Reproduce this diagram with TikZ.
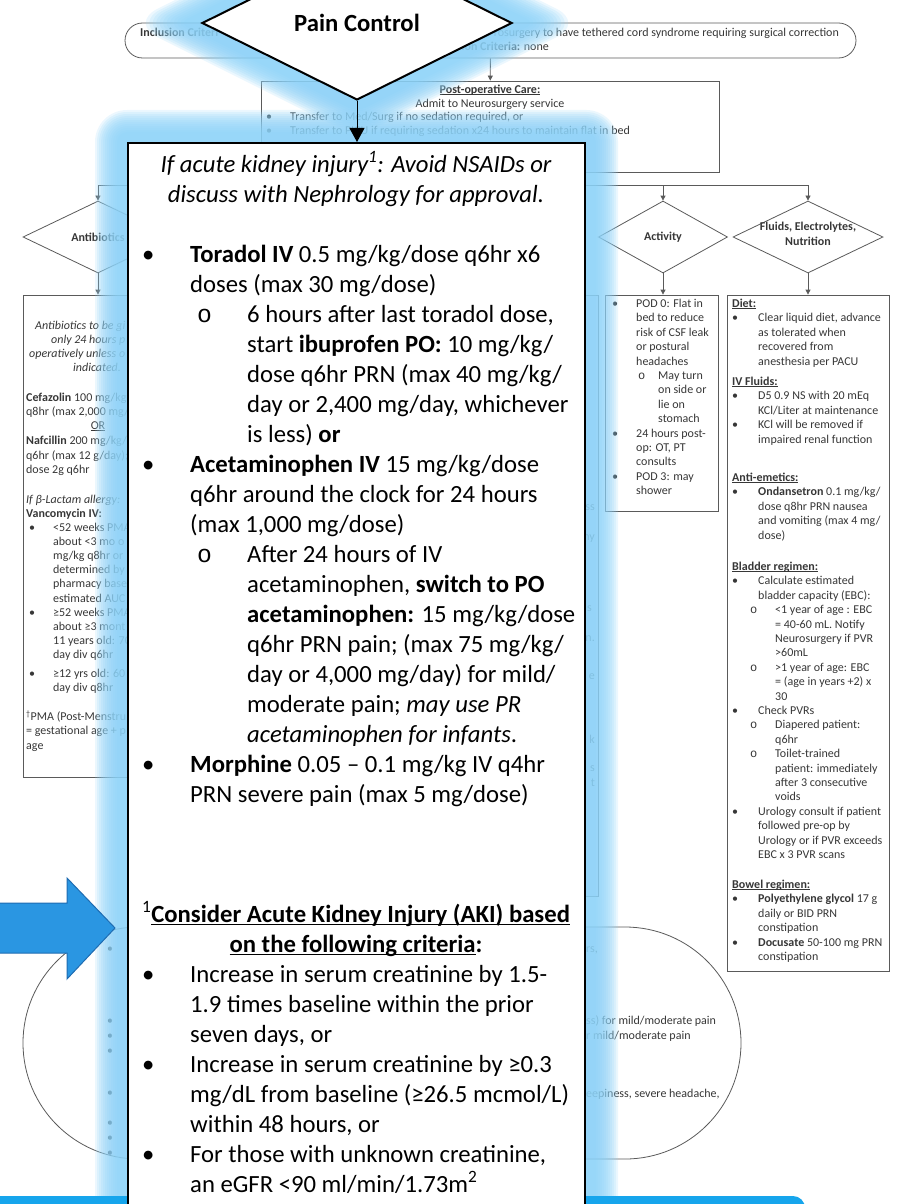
\documentclass[tikz,border=0pt]{standalone}
\usepackage{fontspec}
\setmainfont{Carlito}
\newfontfamily\subfont{Liberation Mono}
\usetikzlibrary{shapes.geometric,arrows.meta}

\definecolor{glowc}{RGB}{140,210,248}
\definecolor{bgline}{RGB}{90,90,90}
\definecolor{bgtext}{RGB}{55,55,55}
\definecolor{calloutblue}{RGB}{42,150,226}
\definecolor{calloutedge}{RGB}{30,108,178}
\definecolor{barblue}{RGB}{22,165,236}

% bullet layout: bullet width, sub-bullet offset, sub-bullet width
\newlength\bw \newlength\so \newlength\sw
\newcommand\itm[1]{\makebox[\bw][l]{\textbullet}#1}
\newcommand\cnt[1]{\hspace*{\bw}#1}
\newcommand\sitm[1]{\hspace*{\so}\makebox[\sw][l]{\subfont o}#1}
\newcommand\scnt[1]{\hspace*{\so}\hspace*{\sw}#1}
\newcommand\undl[1]{\setbox0\hbox{#1}\rlap{\rule[-0.13em]{\wd0}{0.055em}}\box0}
\newcommand\bigfs{\fontsize{24.7}{30}\selectfont}
\newcommand\smallfs{\fontsize{12}{14.4}\selectfont}

\pgfdeclarelayer{back}
\pgfdeclarelayer{halo}
\pgfsetlayers{back,halo,main}

\begin{document}
\begin{tikzpicture}[x=1pt, y=-1pt,
  bgshape/.style={draw=bgline, line width=0.8pt, fill=white, inner sep=0},
  bgdia/.style={bgshape, diamond},
  bgtxt/.style={anchor=base west, inner sep=0, text=bgtext, font=\smallfs},
  bglab/.style={inner sep=0, text=bgtext, font=\smallfs\bfseries, align=center},
  bgconn/.style={draw=bgline, line width=0.8pt},
  bgarrow/.style={bgconn, -{Triangle[length=5pt,width=5pt]}},
  mainbox/.style={draw, line width=2pt, fill=white},
  maintxt/.style={anchor=base west, inner sep=0, font=\bigfs},
  glowlayer/.style={fill=glowc, opacity=0.17},
  painarrow/.style={line width=1pt, -{Triangle[length=14pt,width=15pt]}}
]
\useasboundingbox (0,0) rectangle (897,1204);

% highlighted step
\node[mainbox, minimum width=457, minimum height=1090, anchor=north west] (main) at (127,142) {};
\node[diamond, draw, line width=2pt, fill=white, aspect=2, minimum width=310, minimum height=154,
  font=\bigfs\bfseries] (pc) at (357,23) {Pain Control};
\draw[painarrow] (pc.south) -- (pc.south |- main.north);

\node[anchor=base, inner sep=0, font=\bigfs\itshape] (akiNote) at (356,172)
  {\begin{tabular}[t]{@{}c@{}}If acute kidney injury\textsuperscript{1}: Avoid NSAIDs or\\
   discuss with Nephrology for approval.\end{tabular}};
\node[maintxt] (meds) at (142,262) {\setlength\bw{48pt}\setlength\so{55pt}\setlength\sw{50pt}%
  \begin{tabular}[t]{@{}l@{}}
  \itm{\textbf{Toradol IV} 0.5 mg/kg/dose q6hr x6}\\
  \cnt{doses (max 30 mg/dose)}\\
  \sitm{6 hours after last toradol dose,}\\
  \scnt{start \textbf{ibuprofen PO:} 10 mg/kg/}\\
  \scnt{dose q6hr PRN (max 40 mg/kg/}\\
  \scnt{day or 2,400 mg/day, whichever}\\
  \scnt{is less) \textbf{or}}\\
  \itm{\textbf{Acetaminophen IV} 15 mg/kg/dose}\\
  \cnt{q6hr around the clock for 24 hours}\\
  \cnt{(max 1,000 mg/dose)}\\
  \sitm{After 24 hours of IV}\\
  \scnt{acetaminophen, \textbf{switch to PO}}\\
  \scnt{\textbf{acetaminophen:} 15 mg/kg/dose}\\
  \scnt{q6hr PRN pain; (max 75 mg/kg/}\\
  \scnt{day or 4,000 mg/day) for mild/}\\
  \scnt{moderate pain; \textit{may use PR}}\\
  \scnt{\textit{acetaminophen for infants}.}\\
  \itm{\textbf{Morphine} 0.05 -- 0.1 mg/kg IV q4hr}\\
  \cnt{PRN severe pain (max 5 mg/dose)}
  \end{tabular}};
\node[anchor=base, inner sep=0, font=\bigfs] (akiHead) at (356,922)
  {\begin{tabular}[t]{@{}c@{}}\textsuperscript{1}\textbf{\undl{Consider Acute Kidney Injury (AKI) based}}\\
   \textbf{\undl{on the following criteria}:}\end{tabular}};
\node[maintxt] (akiList) at (142,982) {\setlength\bw{48pt}%
  \begin{tabular}[t]{@{}l@{}}
  \itm{Increase in serum creatinine by 1.5-}\\
  \cnt{1.9 times baseline within the prior}\\
  \cnt{seven days, or}\\
  \itm{Increase in serum creatinine by ≥0.3}\\
  \cnt{mg/dL from baseline (≥26.5 mcmol/L)}\\
  \cnt{within 48 hours, or}\\
  \itm{For those with unknown creatinine,}\\
  \cnt{an eGFR <90 ml/min/1.73m\textsuperscript{2}}
  \end{tabular}};

% pointer arrow
\fill[calloutblue, draw=calloutedge, line width=1pt] (-5,903) -- (67,903) -- (67,878) -- (115,928)
  -- (67,979) -- (67,953) -- (-5,953) -- cycle;

% glow round the highlighted step
\begin{pgfonlayer}{halo}
\foreach \d in {10,12,...,32} {
  \fill[glowlayer, rounded corners=\d pt] ([xshift=-\d, yshift=\d]main.north west)
    rectangle ([xshift=\d, yshift=-\d]main.south east);
  \fill[glowlayer, rounded corners=\d pt] ([xshift=-2.25*\d]pc.west) -- ([yshift=1.12*\d]pc.north)
    -- ([xshift=2.25*\d]pc.east) -- ([yshift=-1.12*\d]pc.south) -- cycle;
}
\fill[barblue, rounded corners=12pt] (-20,1196) rectangle (805,1240);
\end{pgfonlayer}

% the pathway behind
\begin{pgfonlayer}{back}
\node[bgshape, rounded corners=17.5pt, minimum width=731, minimum height=35] (incl) at (490.5,40.5) {};
\node[bgtxt] (inclL) at (140,36.5) {\textbf{Inclusion Criteri}};
\node[bgtxt, anchor=base east] (inclR) at (839,36.5) {rosurgery to have tethered cord syndrome requiring surgical correction};
\node[bgtxt, anchor=base east] (exclR) at (549,50.5) {\textbf{ion Criteria:} none};

\node[bgshape, minimum width=458, minimum height=91] (postop) at (490,126.5) {};
\node[bgtxt, anchor=base] (postopT) at (490,93.5) {\textbf{\undl{Post-operative Care:}}};
\node[bgtxt, anchor=base] (postopA) at (490,107.5) {Admit to Neurosurgery service};
\node[bgtxt] (postopB) at (266,120.5) {\setlength\bw{24pt}%
  \begin{tabular}[t]{@{}l@{}}
  \itm{Transfer to Med/Surg if no sedation required, or}\\
  \itm{Transfer to PICU if requiring sedation x24 hours to maintain flat in bed}
  \end{tabular}};
\draw[bgarrow] (incl) -- (postop);

\coordinate (split) at (490,185);
\node[bgdia, minimum width=150, minimum height=72] (dAnti) at (98,237) {};
\node[bglab] (lAnti) at (98,237) {Antibiotics};
\node[bgdia, minimum width=129, minimum height=72] (dAct) at (663,237) {};
\node[bglab] (lAct) at (663,237) {Activity};
\node[bgdia, minimum width=150, minimum height=72] (dFlu) at (808,237) {};
\node[bglab] (lFlu) at (808,234) {Fluids, Electrolytes,\\Nutrition};
\draw[bgconn] (postop) -- (split);
\draw[bgarrow] (split) -| (dAnti);
\draw[bgarrow] (split) -| (dAct);
\draw[bgarrow] (split) -| (dFlu);

\node[bgshape, minimum width=150, minimum height=482] (abBox) at (98,536) {};
\node[bgshape, minimum width=412, minimum height=601] (pBox) at (392,595.5) {};
\node[bgshape, minimum width=113, minimum height=216] (actBox) at (661.5,403) {};
\node[bgshape, minimum width=162, minimum height=676] (fluBox) at (808,633) {};
\draw[bgarrow] (dAnti) -- (abBox);
\draw[bgarrow] (dAct) -- (dAct |- actBox.north);
\draw[bgarrow] (dFlu) -- (fluBox);

% antibiotics column
\node[bgtxt] (ab1) at (35,329.5) {\textit{Antibiotics to be gi}};
\node[bgtxt] (ab2) at (51,343.5) {\textit{only 24 hours p}};
\node[bgtxt] (ab3) at (29,357.5) {\textit{operatively unless o}};
\node[bgtxt] (ab4) at (73,371.5) {\textit{indicated.}};
\node[bgtxt] (ab5) at (26,401.5) {\begin{tabular}[t]{@{}l@{}}
  \textbf{Cefazolin} 100 mg/kg\\ q8hr (max 2,000 mg/\\ \\ \textbf{Nafcillin} 200 mg/kg/\\
  q6hr (max 12 g/day);\\ dose 2g q6hr\end{tabular}};
\node[bgtxt, anchor=base] (abOr) at (98,429.5) {\undl{OR}};
\node[bgtxt] (ab6) at (26,503.5) {\begin{tabular}[t]{@{}l@{}}
  \textit{If β-Lactam allergy:}\\ \textbf{Vancomycin IV:}\end{tabular}};
\node[bgtxt] (ab7) at (29,531.5) {\setlength\bw{24pt}\fontsize{12}{14.1}\selectfont
  \begin{tabular}[t]{@{}l@{}}
  \itm{<52 weeks PMA}\\ \cnt{about <3 mo o}\\ \cnt{mg/kg q8hr or}\\ \cnt{determined by}\\
  \cnt{pharmacy base}\\ \cnt{estimated AUC}\\ \itm{≥52 weeks PMA}\\ \cnt{about ≥3 mont}\\
  \cnt{11 years old: 70}\\ \cnt{day div q6hr}
  \end{tabular}};
\node[bgtxt] (ab8) at (29,677.5) {\setlength\bw{24pt}%
  \begin{tabular}[t]{@{}l@{}}\itm{≥12 yrs old: 60}\\ \cnt{day div q8hr}\end{tabular}};
\node[bgtxt] (ab9) at (26,720.5) {\begin{tabular}[t]{@{}l@{}}
  \textsuperscript{†}PMA (Post-Menstru\\ = gestational age + p\\ age\end{tabular}};

% pain column, right edge only
\node[bgtxt, anchor=base east] (pm1) at (595,510.5) {ss};
\node[bgtxt, anchor=base east] (pm2) at (595,540.5) {ny};
\node[bgtxt, anchor=base east] (pm3) at (592,611.5) {s};
\node[bgtxt, anchor=base east] (pm4) at (595,641.5) {n.};
\node[bgtxt, anchor=base east] (pm5) at (595,679.5) {e};
\node[bgtxt, anchor=base east] (pm6) at (595,743.5) {k};
\node[bgtxt, anchor=base east] (pm7) at (595,771.5) {s};
\node[bgtxt, anchor=base east] (pm8) at (595,786.5) {t};

% activity column
\node[bgtxt] (actTxt) at (612,307.5) {\setlength\bw{24pt}\setlength\so{26pt}\setlength\sw{20pt}%
  \begin{tabular}[t]{@{}l@{}}
  \itm{POD 0: Flat in}\\ \cnt{bed to reduce}\\ \cnt{risk of CSF leak}\\ \cnt{or postural}\\
  \cnt{headaches}\\ \sitm{May turn}\\ \scnt{on side or}\\ \scnt{lie on}\\ \scnt{stomach}\\
  \itm{24 hours post-}\\ \cnt{op: OT, PT}\\ \cnt{consults}\\ \itm{POD 3: may}\\ \cnt{shower}
  \end{tabular}};

% fluids column
\node[bgtxt] (flu1) at (732,307.5) {\setlength\bw{26pt}%
  \begin{tabular}[t]{@{}l@{}}
  \textbf{\undl{Diet:}}\\ \itm{Clear liquid diet, advance}\\ \cnt{as tolerated when}\\
  \cnt{recovered from}\\ \cnt{anesthesia per PACU}
  \end{tabular}};
\node[bgtxt] (flu2) at (732,385.5) {\setlength\bw{26pt}%
  \begin{tabular}[t]{@{}l@{}}
  \textbf{\undl{IV Fluids:}}\\ \itm{D5 0.9 NS with 20 mEq}\\ \cnt{KCl/Liter at maintenance}\\
  \itm{KCl will be removed if}\\ \cnt{impaired renal function}
  \end{tabular}};
\node[bgtxt] (flu3) at (732,481.5) {\setlength\bw{26pt}%
  \begin{tabular}[t]{@{}l@{}}
  \textbf{\undl{Anti-emetics:}}\\ \itm{\textbf{Ondansetron} 0.1 mg/kg/}\\ \cnt{dose q8hr PRN nausea}\\
  \cnt{and vomiting (max 4 mg/}\\ \cnt{dose)}
  \end{tabular}};
\node[bgtxt] (flu4) at (732,570.5) {\setlength\bw{26pt}\setlength\so{18pt}\setlength\sw{25pt}%
  \begin{tabular}[t]{@{}l@{}}
  \textbf{\undl{Bladder regimen:}}\\ \itm{Calculate estimated}\\ \cnt{bladder capacity (EBC):}\\
  \sitm{<1 year of age : EBC}\\ \scnt{= 40-60 mL. Notify}\\ \scnt{Neurosurgery if PVR}\\ \scnt{>60mL}\\
  \sitm{>1 year of age: EBC}\\ \scnt{= (age in years +2) x}\\ \scnt{30}\\
  \itm{Check PVRs}\\ \sitm{Diapered patient:}\\ \scnt{q6hr}\\ \sitm{Toilet-trained}\\
  \scnt{patient: immediately}\\ \scnt{after 3 consecutive}\\ \scnt{voids}\\
  \itm{Urology consult if patient}\\ \cnt{followed pre-op by}\\ \cnt{Urology or if PVR exceeds}\\
  \cnt{EBC x 3 PVR scans}
  \end{tabular}};
\node[bgtxt] (flu5) at (732,888.5) {\setlength\bw{26pt}%
  \begin{tabular}[t]{@{}l@{}}
  \textbf{\undl{Bowel regimen:}}\\ \itm{\textbf{Polyethylene glycol} 17 g}\\ \cnt{daily or BID PRN}\\
  \cnt{constipation}\\ \itm{\textbf{Docusate} 50-100 mg PRN}\\ \cnt{constipation}
  \end{tabular}};

% discharge oval
\node[bgshape, rounded corners=116pt, minimum width=718, minimum height=232] (oval) at (382,1043) {};
\foreach \y [count=\i] in {952.5,1024.5,1039.5,1054.5,1096.5,1126.5,1141.5,1156.5}
  \node[bgtxt] (dot\i) at (107,\y) {\textbullet};
\node[bgtxt] (ov1) at (586,952.5) {rs,};
\node[bgtxt] (ov2) at (586,1024.5) {ss) for mild/moderate pain};
\node[bgtxt] (ov3) at (586,1039.5) {r mild/moderate pain};
\node[bgtxt] (ov4) at (586,1097.5) {eepiness, severe headache,};
\end{pgfonlayer}
\end{tikzpicture}
\end{document}
